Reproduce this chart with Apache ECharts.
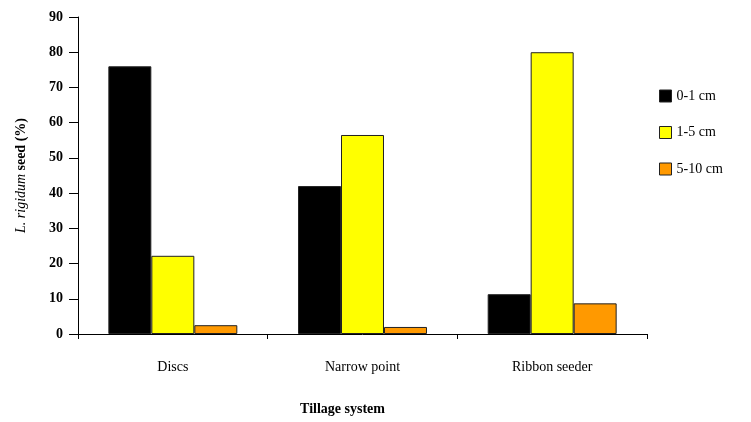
<!DOCTYPE html>
<html>
<head>
<meta charset="utf-8">
<script src="https://cdn.jsdelivr.net/npm/echarts@6/dist/echarts.min.js"></script>
<style>html,body{margin:0;padding:0;background:#fff;}#c{width:751px;height:422px;}</style>
</head>
<body>
<div id="c"></div>
<script>
const categories = ['Discs', 'Narrow point', 'Ribbon seeder'];
const seriesNames = ['0-1 cm', '1-5 cm', '5-10 cm'];
const depth0to1 = [76, 42, 11.3];
const depth1to5 = [22.2, 56.5, 80];
const depth5to10 = [2.5, 2, 8.7];
const yTicks = [0, 10, 20, 30, 40, 50, 60, 70, 80, 90];
const colors = ['#000000', '#ffff00', '#ff9900'];

const font = 'Liberation Serif';
const chart = echarts.init(document.getElementById('c'));
const values = [depth0to1, depth1to5, depth5to10];
chart.setOption({
  animation: false,
  grid: { left: 78, right: 104, top: 17, bottom: 88 },
  legend: {
    orient: 'vertical', left: 659, top: 89, padding: 0, itemWidth: 12, itemHeight: 12, itemGap: 22.5,
    icon: 'rect',
    textStyle: { fontFamily: font, fontSize: 14, color: '#000' },
    data: seriesNames.map(n => ({ name: n, itemStyle: { borderColor: '#222', borderWidth: 1 } }))
  },
  xAxis: {
    type: 'category', data: categories,
    axisLine: { lineStyle: { color: '#000', width: 1 } },
    axisTick: { show: true, length: 5, lineStyle: { color: '#000' } },
    axisLabel: { fontFamily: font, fontSize: 14, color: '#000', margin: 26 },
    name: 'Tillage system', nameLocation: 'middle', nameGap: 68,
    nameTextStyle: { fontFamily: font, fontSize: 14, fontWeight: 'bold', color: '#000', padding: [0, 40, 0, 0] }
  },
  yAxis: {
    type: 'value', min: 0, max: 90, interval: 10,
    splitLine: { show: false },
    axisLine: { show: true, lineStyle: { color: '#000', width: 1 } },
    axisTick: { show: true, length: 9, lineStyle: { color: '#000' } },
    axisLabel: { fontFamily: font, fontSize: 14, fontWeight: 'bold', color: '#000', margin: 15,
      formatter: v => yTicks.includes(v) ? String(v) : '' },
    name: '{i|L. rigidum} {b|seed (%)}', nameLocation: 'middle', nameGap: 50, nameRotate: 90,
    nameTextStyle: {
      rich: {
        i: { fontFamily: font, fontSize: 14, fontStyle: 'italic', color: '#000' },
        b: { fontFamily: font, fontSize: 14, fontWeight: 'bold', color: '#000' }
      }
    }
  },
  series: seriesNames.map((n, i) => ({
    name: n, type: 'bar', data: values[i], barGap: '0%', barCategoryGap: '32%',
    itemStyle: { color: colors[i], borderColor: '#222', borderWidth: 1 }
  }))
});
</script>
</body>
</html>
